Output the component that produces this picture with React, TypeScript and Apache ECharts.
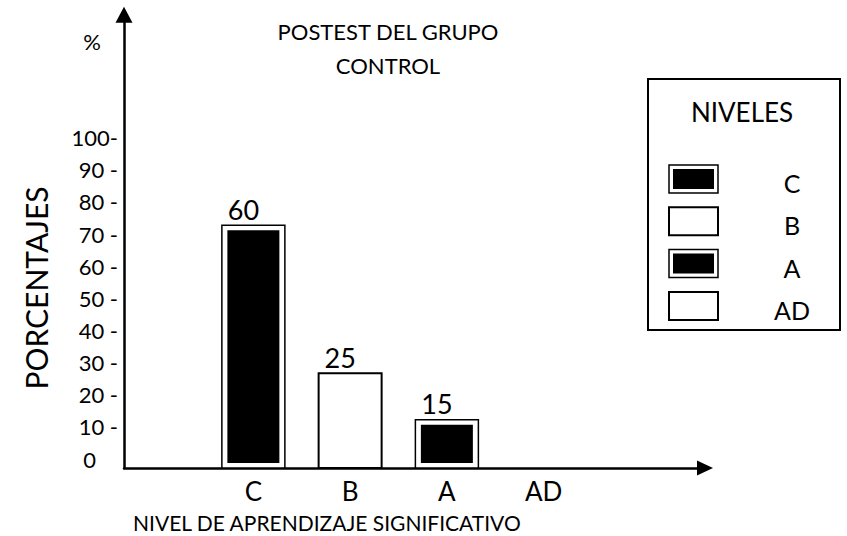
import React, { useEffect, useRef } from 'react';
import * as echarts from 'echarts';

// ---- data ----
const categories = ['C', 'B', 'A', 'AD'];
// printed labels above the bars
const percentages = [60, 25, 15, 0];
// bar heights as drawn against the y axis
const barHeights = [75.5, 29.5, 15, 0];
// which levels are drawn as black bars
const filled = [true, false, true, false];
const yTickValues = [0, 10, 20, 30, 40, 50, 60, 70, 80, 90, 100];
const titleLines = ['POSTEST DEL GRUPO', 'CONTROL'];
const yUnit = '%';
const yName = 'PORCENTAJES';
const xName = 'NIVEL DE APRENDIZAJE SIGNIFICATIVO';
const legendTitle = 'NIVELES';

const FONT = 'Lato, "Open Sans", "DejaVu Sans", sans-serif';

export default function App() {
  const ref = useRef<HTMLDivElement>(null);

  useEffect(() => {
    document.body.style.margin = '0';
    if (!ref.current) return;
    const chart = echarts.init(ref.current, null, { renderer: 'svg' });

    const Y_MAX = 141;
    const gridTop = 14.8;
    const gridBottom = 68;
    const barWidth = 63;

    const txt = (
      text: string,
      x: number,
      y: number,
      fontSize: number,
      align: string,
      extra: any = {}
    ) => ({
      type: 'text',
      x,
      y,
      ...extra,
      style: {
        text,
        fontSize,
        fontFamily: FONT,
        fill: '#000',
        textAlign: align,
        align,
        textVerticalAlign: 'middle',
        verticalAlign: 'middle',
      },
    });

    // legend (box + swatches), built from categories / filled
    const legendX = 648;
    const legendY = 79;
    const legendEls: any[] = [
      {
        type: 'rect',
        shape: { x: legendX, y: legendY, width: 192, height: 251 },
        style: { fill: '#fff', stroke: '#000', lineWidth: 2 },
      },
      txt(legendTitle, 742, 112, 26, 'center'),
    ];
    categories.forEach((c, i) => {
      const top = 165 + i * 42.3;
      legendEls.push({
        type: 'rect',
        shape: { x: 669, y: top, width: 49, height: 28 },
        style: { fill: '#fff', stroke: '#000', lineWidth: filled[i] ? 1.5 : 2 },
      });
      if (filled[i]) {
        legendEls.push({
          type: 'rect',
          shape: { x: 673, y: top + 4, width: 41, height: 20 },
          style: { fill: '#000' },
        });
      }
      legendEls.push(txt(c, 792, top + 18, 25, 'center'));
    });

    const yLabel = (v: number) => {
      if (v > 100) return '';
      if (v === 100) return '100-';
      if (v === 0) return '{z|0}';
      return yTickValues.includes(v) ? `${v} -` : '';
    };

    chart.setOption({
      animation: false,
      backgroundColor: '#fff',
      grid: [
        { left: 124, right: 142, top: gridTop, bottom: gridBottom },
        { left: 205, width: 387, top: gridTop, bottom: gridBottom },
      ],
      xAxis: [
        {
          gridIndex: 0,
          type: 'value',
          min: 0,
          max: 1,
          axisLabel: { show: false },
          axisTick: { show: false },
          splitLine: { show: false },
          axisLine: {
            show: true,
            symbol: ['none', 'triangle'],
            symbolSize: [15, 16],
            lineStyle: { color: '#000', width: 2.5 },
          },
        },
        {
          gridIndex: 1,
          type: 'category',
          data: categories,
          boundaryGap: true,
          axisLine: { show: false },
          axisTick: { show: false },
          splitLine: { show: false },
          axisLabel: {
            color: '#000',
            fontSize: 26,
            fontFamily: FONT,
            margin: 10,
          },
        },
      ],
      yAxis: [
        {
          gridIndex: 0,
          type: 'value',
          min: 0,
          max: Y_MAX,
          interval: 10,
          splitLine: { show: false },
          axisTick: { show: false },
          axisLine: {
            show: true,
            symbol: ['none', 'triangle'],
            symbolSize: [17, 16],
            lineStyle: { color: '#000', width: 2.5 },
          },
          axisLabel: {
            color: '#000',
            fontSize: 22,
            fontFamily: FONT,
            margin: 6,
            verticalAlign: 'bottom',
            lineHeight: 18,
            formatter: yLabel,
            rich: {
              z: {
                fontSize: 22,
                fontFamily: FONT,
                color: '#000',
                lineHeight: 18,
                padding: [0, 22, 0, 0],
              },
            },
          },
        },
        {
          gridIndex: 1,
          type: 'value',
          min: 0,
          max: Y_MAX,
          show: false,
        },
      ],
      series: [
        {
          type: 'custom',
          xAxisIndex: 1,
          yAxisIndex: 1,
          data: categories.map((c, i) => [i, barHeights[i], percentages[i]]),
          renderItem: (params: any, api: any) => {
            const idx = api.value(0);
            const h = api.value(1);
            if (!h) return { type: 'group', children: [] };
            const base = api.coord([idx, 0]);
            const top = api.coord([idx, h]);
            const x0 = base[0] - barWidth / 2;
            const height = base[1] - top[1];
            const children: any[] = [
              {
                type: 'rect',
                shape: { x: x0, y: top[1], width: barWidth, height },
                style: {
                  fill: '#fff',
                  stroke: '#000',
                  lineWidth: filled[idx] ? 1.5 : 2,
                },
              },
            ];
            if (filled[idx]) {
              children.push({
                type: 'rect',
                shape: {
                  x: x0 + 5.5,
                  y: top[1] + 5,
                  width: barWidth - 11,
                  height: height - 10,
                },
                style: { fill: '#000' },
              });
            }
            children.push({
              type: 'text',
              x: base[0] - 10,
              y: top[1] - 16,
              style: {
                text: String(api.value(2)),
                fontSize: 27,
                fontFamily: FONT,
                fill: '#000',
                textAlign: 'center',
                align: 'center',
                textVerticalAlign: 'middle',
                verticalAlign: 'middle',
              },
            });
            return { type: 'group', children };
          },
        },
      ],
      graphic: [
        txt(titleLines[0], 388, 31, 22, 'center'),
        txt(titleLines[1], 388, 65, 22, 'center'),
        txt(yUnit, 92, 41, 22, 'center'),
        txt(yName, 36, 288, 30, 'center', { rotation: Math.PI / 2 }),
        txt(xName, 133, 522, 21, 'left'),
        ...legendEls,
      ],
    });

    return () => chart.dispose();
  }, []);

  return <div ref={ref} style={{ width: 847, height: 536 }} />;
}
